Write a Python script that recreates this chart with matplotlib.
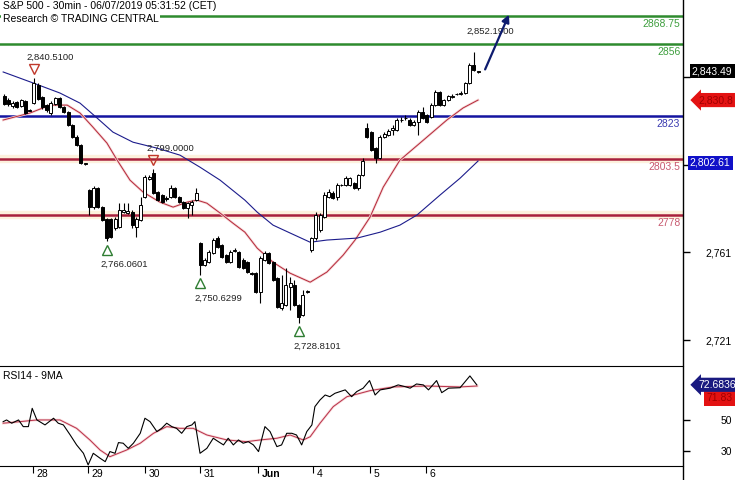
import matplotlib
matplotlib.use("Agg")
import matplotlib.pyplot as plt
import matplotlib.transforms as mtransforms
from matplotlib.lines import Line2D

plt.rcParams['font.family'] = ['Liberation Sans', 'DejaVu Sans']

# 30 min bars, May 24 -> Jun 6
opens = [2832.2, 2830.4, 2827.7, 2829.5, 2827.7, 2829.9, 2825.8,
         2829.0, 2837.2, 2831.8, 2828.1, 2824.5, 2828.6, 2831.3, 2827.2, 2824.9, 2819.0, 2813.5, 2809.9, 2801.2,
         2789.4, 2781.6, 2790.3, 2781.6, 2776.1, 2776.1, 2772.0, 2772.5, 2779.3, 2778.9, 2779.3, 2772.5, 2775.7,
         2786.2, 2794.4, 2797.1, 2788.4, 2787.1, 2785.7, 2786.2, 2790.3, 2786.2, 2783.9, 2781.2, 2782.5, 2784.8,
         2765.2, 2755.2, 2756.5, 2760.6, 2767.5, 2764.3, 2759.7, 2756.5, 2761.5, 2761.1, 2757.4, 2756.5, 2751.5,
         2751.5, 2742.8, 2757.4, 2760.6, 2756.5, 2749.2, 2735.6, 2736.9, 2745.1, 2746.0, 2736.9, 2732.4, 2742.8,
         2762.0, 2767.5, 2771.1, 2777.0, 2786.2, 2788.0, 2786.2, 2791.6, 2791.6, 2791.6, 2792.6, 2790.3, 2796.2,
         2817.6, 2815.8, 2808.5, 2804.0, 2813.5, 2814.4, 2816.7, 2816.7, 2821.3, 2822.2, 2821.3, 2819.0, 2820.4,
         2824.9, 2823.6, 2822.6, 2828.1, 2834.0, 2828.1, 2830.4, 2831.8, 2833.1, 2833.1, 2833.6, 2838.2, 2846.4, 2843.2]
highs = [2833.1, 2831.3, 2829.9, 2829.9, 2830.9, 2830.4, 2826.3,
         2840.51, 2838.2, 2832.2, 2828.6, 2829.9, 2831.8, 2831.8, 2827.7, 2825.4, 2819.5, 2814.4, 2810.3, 2801.9,
         2789.8, 2791.2, 2790.7, 2782.1, 2776.6, 2776.6, 2777.0, 2783.4, 2783.4, 2783.4, 2780.2, 2777.0, 2786.2,
         2796.2, 2796.2, 2799.0, 2788.9, 2787.5, 2786.6, 2791.6, 2790.7, 2786.6, 2784.3, 2783.9, 2784.8, 2790.3,
         2765.6, 2758.4, 2762.0, 2767.5, 2768.4, 2764.7, 2760.2, 2762.0, 2762.9, 2761.5, 2758.4, 2757.0, 2752.0,
         2752.0, 2759.3, 2761.5, 2761.1, 2757.0, 2749.7, 2750.6, 2753.8, 2749.7, 2748.3, 2737.4, 2743.8, 2743.8,
         2767.9, 2779.3, 2778.9, 2788.4, 2789.8, 2788.9, 2792.6, 2792.1, 2795.7, 2795.3, 2793.0, 2796.7, 2804.0,
         2819.9, 2816.3, 2809.0, 2814.4, 2815.8, 2817.2, 2819.0, 2822.2, 2822.6, 2823.6, 2822.2, 2821.3, 2825.8,
         2827.2, 2824.0, 2829.0, 2835.0, 2834.5, 2830.9, 2832.7, 2833.1, 2833.6, 2834.5, 2838.6, 2847.3, 2852.19, 2843.7]
lows = [2828.1, 2827.7, 2826.8, 2826.8, 2827.2, 2824.0, 2825.3,
        2828.6, 2830.4, 2826.3, 2824.9, 2823.6, 2828.1, 2826.8, 2824.5, 2818.5, 2813.1, 2809.4, 2801.2, 2801.0,
        2778.0, 2780.7, 2781.2, 2775.2, 2766.06, 2767.5, 2771.1, 2772.0, 2778.9, 2778.4, 2772.0, 2767.9, 2775.2,
        2785.7, 2793.9, 2787.5, 2784.3, 2783.4, 2784.3, 2785.7, 2785.7, 2783.4, 2780.7, 2776.6, 2778.0, 2784.3,
        2750.63, 2754.7, 2756.1, 2760.2, 2762.9, 2758.4, 2756.1, 2756.1, 2761.1, 2753.8, 2753.3, 2751.5, 2750.8,
        2742.4, 2737.8, 2757.0, 2755.6, 2747.9, 2735.6, 2734.6, 2736.5, 2734.6, 2736.5, 2728.81, 2731.9, 2742.4,
        2761.1, 2766.6, 2770.2, 2776.6, 2785.7, 2785.3, 2784.8, 2791.2, 2791.2, 2791.2, 2789.8, 2789.4, 2795.7,
        2813.1, 2807.1, 2801.7, 2803.5, 2813.1, 2814.0, 2814.4, 2816.3, 2820.4, 2821.3, 2818.5, 2818.5, 2814.4,
        2821.7, 2819.9, 2822.2, 2827.7, 2827.7, 2827.7, 2829.9, 2831.3, 2832.7, 2832.7, 2833.1, 2837.7, 2843.6, 2842.9]
closes = [2828.6, 2828.6, 2829.0, 2827.2, 2830.4, 2824.5, 2825.6,
          2838.2, 2830.9, 2827.2, 2825.8, 2829.0, 2831.3, 2827.2, 2824.9, 2819.0, 2813.5, 2809.9, 2801.7, 2801.7,
          2781.6, 2790.3, 2781.6, 2775.7, 2767.5, 2767.9, 2776.1, 2780.2, 2780.2, 2779.8, 2773.4, 2776.1, 2782.5,
          2795.3, 2795.3, 2788.0, 2784.8, 2783.9, 2785.3, 2790.3, 2786.2, 2783.9, 2781.2, 2783.4, 2783.9, 2788.0,
          2755.2, 2757.4, 2761.1, 2766.6, 2763.4, 2758.8, 2756.5, 2761.1, 2762.0, 2754.2, 2753.8, 2752.0, 2751.3,
          2742.8, 2758.4, 2760.6, 2756.1, 2748.3, 2736.0, 2737.8, 2746.0, 2746.9, 2736.9, 2731.4, 2741.5, 2743.3,
          2767.5, 2778.0, 2778.0, 2787.1, 2788.4, 2785.7, 2791.6, 2791.8, 2794.8, 2794.8, 2790.3, 2796.2, 2802.6,
          2813.5, 2807.6, 2804.0, 2813.5, 2814.9, 2816.3, 2817.6, 2821.3, 2821.5, 2822.4, 2819.0, 2820.4, 2824.9,
          2822.2, 2820.4, 2828.1, 2834.0, 2828.1, 2830.4, 2832.2, 2832.2, 2833.3, 2833.6, 2838.2, 2846.4, 2844.1, 2843.49]

# moving averages read at sample bars
ma_fast_x = [-0.2, 6.1, 10.8, 14.8, 17.8, 20.8, 24.1, 26.5, 29.5, 32.6, 36.5, 39.6, 42.9, 45.2, 47.5, 50.6,
             53.6, 56.4, 59.3, 63.0, 67.0, 71.7, 75.6, 79.4, 82.2, 85.7, 88.8, 92.7, 97.4, 103.7, 107.5, 111.0]
ma_fast_y = [2821.3, 2824.5, 2828.1, 2828.1, 2824.5, 2818.1, 2810.8, 2803.0, 2793.9, 2788.4, 2783.9, 2781.6,
             2783.9, 2784.8, 2783.4, 2778.9, 2774.3, 2770.2, 2762.9, 2756.5, 2751.5, 2747.4, 2752.0, 2759.7,
             2766.6, 2777.0, 2790.7, 2803.0, 2810.8, 2821.3, 2826.8, 2830.4]
ma_slow_x = [-0.2, 6.8, 13.1, 17.8, 21.8, 25.5, 30.2, 35.8, 41.2, 45.9, 50.6, 56.4, 59.3, 63.0, 67.0, 71.7,
             75.6, 82.7, 88.1, 92.7, 96.7, 102.1, 106.8, 111.0]
ma_slow_y = [2843.2, 2838.2, 2833.6, 2829.0, 2822.2, 2815.8, 2811.2, 2808.5, 2805.3, 2799.8, 2793.9, 2784.8,
             2779.3, 2773.4, 2769.8, 2765.6, 2766.6, 2767.5, 2770.2, 2773.4, 2778.0, 2787.1, 2794.8, 2802.6]

# RSI(14) and its 9 period MA
rsi_x = [-0.2, 0.6, 1.8, 3.4, 4.5, 5.7, 6.6, 7.7, 9.6, 11.6, 12.7, 13.9, 15.5, 17.0, 18.6, 19.7, 20.9, 22.5,
         23.7, 24.8, 26.0, 26.8, 27.9, 29.1, 30.3, 31.9, 33.0, 34.2, 35.8, 36.9, 38.1, 39.3, 40.4, 41.6, 42.8,
         44.0, 44.7, 45.9, 47.5, 49.0, 50.2, 51.4, 52.5, 53.7, 54.9, 56.0, 57.2, 58.4, 59.6, 61.1, 62.3, 63.9,
         65.0, 66.2, 67.4, 68.5, 69.7, 70.9, 72.1, 72.8, 74.0, 75.2, 76.3, 77.5, 78.7, 79.9, 81.4, 82.6, 84.1,
         85.6, 86.9, 88.1, 90.4, 92.3, 93.9, 95.1, 96.6, 98.2, 99.4, 101.3, 102.5, 104.1, 106.8, 109.1, 110.7]
rsi_y = [48.9, 50.0, 47.9, 50.0, 45.7, 45.7, 57.5, 50.0, 46.8, 51.1, 47.9, 46.8, 40.3, 33.9, 28.5, 21.0, 28.5,
         25.3, 23.1, 29.6, 28.5, 35.4, 35.0, 31.7, 35.0, 41.4, 51.1, 48.9, 42.5, 44.6, 47.9, 45.7, 44.6, 41.4,
         45.7, 46.8, 48.9, 28.5, 31.7, 38.2, 36.0, 33.9, 38.2, 33.9, 37.1, 35.0, 36.0, 33.9, 29.6, 45.7, 42.5,
         32.8, 33.9, 41.4, 41.4, 40.3, 33.9, 42.5, 46.8, 58.6, 62.9, 66.1, 65.0, 67.2, 68.3, 69.4, 65.0, 68.3,
         70.5, 75.4, 66.1, 69.4, 70.5, 72.6, 71.5, 70.5, 73.2, 72.6, 69.4, 75.4, 67.6, 70.5, 70.8, 78.4, 72.68]
rsi_ma_x = [-0.2, 3.7, 7.7, 13.1, 17.0, 20.1, 22.5, 24.8, 28.7, 31.9, 35.0, 38.1, 41.2, 44.3, 47.5, 52.2,
            56.8, 60.0, 63.9, 67.0, 70.1, 71.7, 74.0, 77.1, 80.3, 83.4, 85.7, 91.1, 99.1, 106.8, 110.8]
rsi_ma_y = [47.9, 48.9, 50.0, 50.0, 44.6, 37.1, 30.6, 26.3, 30.6, 35.0, 41.4, 45.7, 44.6, 44.6, 40.3, 37.1,
            36.0, 37.1, 38.2, 40.3, 37.1, 39.2, 47.9, 58.6, 65.0, 67.2, 68.9, 71.3, 71.9, 71.3, 71.9]

levels = [2868.75, 2856, 2823, 2803.5, 2778]
level_colors = ['#2e8b2e', '#2e8b2e', '#1414a0', '#a8203c', '#a8203c']
level_text_colors = ['#3f9f3f', '#3f9f3f', '#3a3ab0', '#c85a70', '#c85a70']

pivots_high = [(7, 2840.51), (35, 2799.0), (110, 2852.19)]
pivots_low = [(24, 2766.0601), (46, 2750.6299), (69, 2728.8101)]

day_ticks = [6.8, 19.7, 33.0, 45.9, 59.5, 72.4, 85.7, 98.8]
day_labels = ['28', '29', '30', '31', 'Jun', '4', '5', '6']

W, H = 735, 480
fig = plt.figure(figsize=(W / 100, H / 100), dpi=100)
axw = 683 / W
ax = fig.add_axes([0, (H - 366) / H, axw, 366 / H])
rsi = fig.add_axes([0, (H - 466) / H, axw, 100 / H])

xlim = (-0.94, 159.0)

# ---- price panel
for lv, c in zip(levels, level_colors):
    if c == '#a8203c':
        ax.axhline(lv, color='#fdf1dd', lw=6, zorder=1)
    ax.axhline(lv, color=c, lw=1.8, zorder=2)

ax.plot(ma_fast_x, ma_fast_y, color='#f6d6d6', lw=1.8, zorder=3)
ax.plot(ma_fast_x, ma_fast_y, color='#b4283a', lw=0.7, zorder=3)
ax.plot(ma_slow_x, ma_slow_y, color='#1c1c8c', lw=0.8, zorder=3)

xs = list(range(len(opens)))
ax.vlines(xs, lows, highs, color='black', lw=0.8, zorder=4)
for i in xs:
    up = closes[i] >= opens[i]
    ax.bar(i, closes[i] - opens[i], bottom=opens[i], width=0.7,
           color='white' if up else 'black', edgecolor='black', lw=0.7, zorder=5)

for lv, tc in zip(levels, level_text_colors):
    txt = ('%g' % lv)
    ax.annotate(txt, xy=(1, lv), xycoords=ax.get_yaxis_transform(), xytext=(-2, -2),
                textcoords='offset points', ha='right', va='top', fontsize=7.5, color=tc, zorder=6)

up_off = mtransforms.offset_copy(ax.transData, fig, x=0, y=6.5, units='points')
dn_off = mtransforms.offset_copy(ax.transData, fig, x=0, y=-6, units='points')
for k, (i, p) in enumerate(pivots_high):
    if k < 2:
        ax.plot(i, p, marker='v', ms=7, mfc='none', mec='#c0392b', mew=1, transform=up_off, zorder=7)
    ax.annotate('{:,.4f}'.format(p), xy=(i, p), xytext=(-5, 15), textcoords='offset points',
                ha='left', va='center', fontsize=6.8, color='#222222', zorder=7)
for i, p in pivots_low:
    ax.plot(i, p, marker='^', ms=7, mfc='none', mec='#2e7d32', mew=1, transform=dn_off, zorder=7)
    ax.annotate('{:,.4f}'.format(p), xy=(i, p), xytext=(-4, -16.5), textcoords='offset points',
                ha='left', va='center', fontsize=6.8, color='#222222', zorder=7)

# target arrow
ax.annotate('', xy=(118.5, 2870.5), xytext=(112.4, 2843.2),
            arrowprops=dict(arrowstyle='-|>', lw=1.6, color='#0d1b6e', mutation_scale=11), zorder=8)

ax.text(0.004, 0.997, 'S&P 500 - 30min - 06/07/2019 05:31:52 (CET)',
        transform=ax.transAxes, ha='left', va='top', fontsize=7.5,
        bbox=dict(fc='white', ec='none', pad=1.0), zorder=9)
ax.text(0.004, 0.962, 'Research \u00a9 TRADING CENTRAL',
        transform=ax.transAxes, ha='left', va='top', fontsize=7.5,
        bbox=dict(fc='white', ec='none', pad=1.0), zorder=9)

ax.set_xlim(*xlim)
ax.set_ylim(2709.2, 2876.0)
ax.yaxis.tick_right()
ax.set_yticks([2721, 2761, 2801, 2841])
ax.set_yticklabels(['2,721', '2,761', '', ''])
ax.tick_params(axis='y', length=5, width=1, pad=11, labelsize=7.5)
ax.set_xticks([])
for s in ['left', 'top', 'bottom', 'right']:
    ax.spines[s].set_visible(False)

yt = ax.get_yaxis_transform()
ax.text(1.013, closes[-1], '{:,.2f}'.format(closes[-1]), transform=yt, ha='left', va='center',
        fontsize=7.5, color='white', bbox=dict(boxstyle='square,pad=0.2', fc='black', ec='none'),
        clip_on=False, zorder=9)
ax.text(1.022, ma_fast_y[-1], '2,830.8', transform=yt, ha='left', va='center',
        fontsize=7.5, color='#a00000', bbox=dict(boxstyle='larrow,pad=0.2', fc='#e31212', ec='none'),
        clip_on=False, zorder=9)
ax.text(1.01, 2801.9, '2,802.61', transform=yt, ha='left', va='center',
        fontsize=7.5, color='white', bbox=dict(boxstyle='square,pad=0.2', fc='#1010c8', ec='none'),
        clip_on=False, zorder=9)

# ---- RSI panel
rsi.plot(rsi_ma_x, rsi_ma_y, color='#f8d8d8', lw=1.8)
rsi.plot(rsi_ma_x, rsi_ma_y, color='#b8304a', lw=0.7)
rsi.plot(rsi_x, rsi_y, color='black', lw=0.8)
rsi.text(0.005, 0.9, 'RSI14 - 9MA', transform=rsi.transAxes, ha='left', va='center', fontsize=7.5)
rsi.set_xlim(*xlim)
rsi.set_ylim(20.3, 84.8)
rsi.yaxis.tick_right()
rsi.set_yticks([30, 50])
rsi.set_yticklabels(['30', '50'])
rsi.tick_params(axis='y', length=5, width=1, pad=22, labelsize=7.5)
rsi.spines['left'].set_visible(False)
rsi.spines['right'].set_visible(False)
rt = rsi.get_yaxis_transform()
rsi.text(1.022, rsi_y[-1], '72.6836', transform=rt, ha='left', va='center', fontsize=7.5, color='white',
         bbox=dict(boxstyle='larrow,pad=0.2', fc='#1a1a80', ec='none'), clip_on=False, zorder=9)
rsi.text(1.035, 64.0, '71.83', transform=rt, ha='left', va='center', fontsize=7.5, color='#a00000',
         bbox=dict(boxstyle='square,pad=0.25', fc='#e31212', ec='none'), clip_on=False, zorder=8)

rsi.set_xticks(day_ticks)
rsi.set_xticklabels([])
rsi.tick_params(axis='x', length=5, width=0.8, direction='out')
for t, lab in zip(day_ticks, day_labels):
    rsi.annotate(lab, xy=(t, 0), xycoords=rsi.get_xaxis_transform(), xytext=(2.5, -2),
                 textcoords='offset points', ha='left', va='top', fontsize=7.5,
                 fontweight='bold' if lab == 'Jun' else 'normal')

fig.add_artist(Line2D([axw, axw], [0, 1], transform=fig.transFigure, color='black', lw=1))

fig.savefig('out.png', dpi=100)
